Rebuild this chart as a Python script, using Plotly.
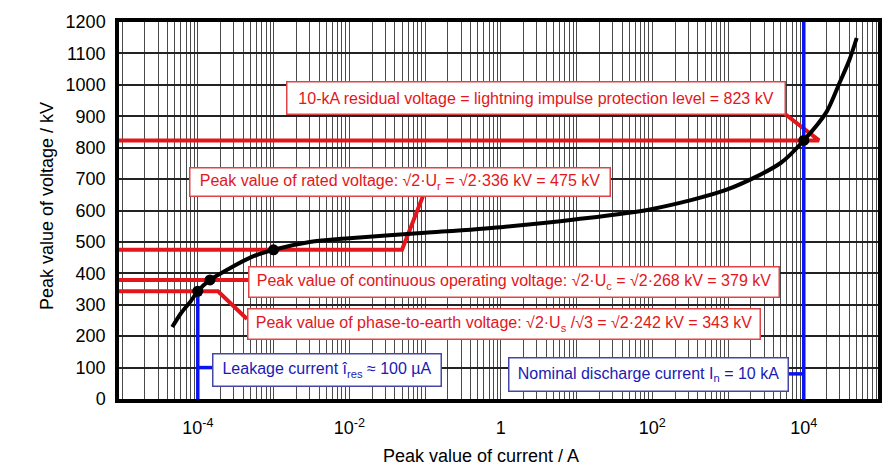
import plotly.graph_objects as go

# ---------------- data ----------------
current_A = [4.6e-5, 6e-5, 8e-5, 1e-4, 1.45e-4, 2.5e-4, 5e-4, 1e-3, 3e-3, 1e-2,
             0.1, 1, 10, 100, 1000, 5000, 1e4, 2e4, 3e4, 4e4, 5e4]
voltage_kV = [229, 273, 310, 343, 379, 413, 451, 475, 500, 512,
              529, 547, 572, 605, 668, 752, 823, 914, 1009, 1079, 1149]

marked_current_A = [1e-4, 1.45e-4, 1e-3, 1e4]
marked_voltage_kV = [343, 379, 475, 823]

protection_level_kV = 823
rated_peak_kV = 475
continuous_peak_kV = 379
phase_earth_peak_kV = 343
leakage_current_A = 1e-4
nominal_current_A = 1e4
leakage_label_kV = 100
nominal_label_kV = 80

x_label_vals = [1e-4, 1e-2, 1, 1e2, 1e4]
x_label_text = ["10<sup>-4</sup>", "10<sup>-2</sup>", "1", "10<sup>2</sup>", "10<sup>4</sup>"]
y_tick_vals = [0, 100, 200, 300, 400, 500, 600, 700, 800, 900, 1000, 1100, 1200]

label_protection = "10-kA residual voltage = lightning impulse protection level = 823 kV"
label_rated = "Peak value of rated voltage: √2·U<sub>r</sub> = √2·336 kV = 475 kV"
label_continuous = "Peak value of continuous operating voltage: √2·U<sub>c</sub> = √2·268 kV = 379 kV"
label_phase_earth = "Peak value of phase-to-earth voltage: √2·U<sub>s</sub> /√3 = √2·242 kV = 343 kV"
label_leakage = "Leakage current î<sub>res</sub> ≈ 100 µA"
label_nominal = "Nominal discharge current I<sub>n</sub> = 10 kA"

# ---------------- layout geometry ----------------
W, H = 896, 474
PL, PR, PT, PB = 119, 878, 22, 399
XR = [-5.04, 4.98]
YR = [0, 1200]

def px_x(px):
    return 10 ** (XR[0] + (px - PL) / (PR - PL) * (XR[1] - XR[0]))

def px_y(py):
    return YR[0] + (PB - py) / (PB - PT) * (YR[1] - YR[0])

def paper_x(px):
    return (px - PL) / (PR - PL)

def paper_y(py):
    return (PB - py) / (PB - PT)

x_left = 10 ** XR[0]

# gridlines at every 1..9 x 10^k
grid_vals = [m * 10 ** k for k in range(-5, 5) for m in range(1, 10)]
grid_text = []
for v in grid_vals:
    t = ""
    for lv, lt in zip(x_label_vals, x_label_text):
        if abs(v - lv) / lv < 1e-9:
            t = lt
    grid_text.append(t)

FONT = "Liberation Sans, Arial, sans-serif"
RED = "#e3161b"
BLUE = "#0a14f0"

fig = go.Figure()

def add_line(xs, ys, color, width):
    fig.add_trace(go.Scatter(x=xs, y=ys, mode="lines",
                             line=dict(color=color, width=width),
                             hoverinfo="skip", showlegend=False, cliponaxis=False))

# red leader lines
add_line([x_left, px_x(819), px_x(785)], [protection_level_kV, protection_level_kV, px_y(114)], RED, 4)
add_line([x_left, px_x(402), px_x(423)], [rated_peak_kV, rated_peak_kV, px_y(196)], RED, 4)
add_line([x_left, px_x(248)], [continuous_peak_kV, continuous_peak_kV], RED, 4)
add_line([x_left, px_x(218), px_x(247)], [phase_earth_peak_kV, phase_earth_peak_kV, px_y(319)], RED, 4)

# blue lines
add_line([leakage_current_A, leakage_current_A], [0, phase_earth_peak_kV], BLUE, 3.5)
add_line([leakage_current_A, px_x(212)], [leakage_label_kV, leakage_label_kV], BLUE, 3.5)
add_line([nominal_current_A, nominal_current_A], [YR[0], YR[1]], BLUE, 3.5)
add_line([px_x(788), nominal_current_A], [nominal_label_kV, nominal_label_kV], BLUE, 3.5)

# characteristic
fig.add_trace(go.Scatter(x=current_A, y=voltage_kV, mode="lines",
                         line=dict(color="black", width=4, shape="spline", smoothing=0.8),
                         hoverinfo="skip", showlegend=False))
fig.add_trace(go.Scatter(x=marked_current_A, y=marked_voltage_kV, mode="markers",
                         marker=dict(color="black", size=11),
                         hoverinfo="skip", showlegend=False))

annotations = []

def add_box(text, x0, y0, x1, y1, tcolor, bcolor):
    pad = 3
    annotations.append(dict(
        text=text, xref="paper", yref="paper",
        x=paper_x((x0 + x1) / 2), y=paper_y((y0 + y1) / 2),
        xanchor="center", yanchor="middle", showarrow=False,
        width=(x1 - x0) - 2 * pad - 2, height=(y1 - y0) - 2 * pad - 2,
        bgcolor="white", bordercolor=bcolor, borderwidth=1.5, borderpad=pad,
        font=dict(family=FONT, size=16, color=tcolor)))

add_box(label_protection, 286, 81, 785, 114, RED, "#e04545")
add_box(label_rated, 189, 167, 610, 196, RED, "#e04545")
add_box(label_continuous, 248, 266, 779, 297, RED, "#e04545")
add_box(label_phase_earth, 247, 308, 760, 339, RED, "#e04545")
add_box(label_leakage, 212, 353, 441, 386, "#1a1ab4", "#4646a8")
add_box(label_nominal, 508, 357, 788, 391, "#1a1ab4", "#4646a8")

# axis titles
annotations.append(dict(text="Peak value of current / A", xref="paper", yref="paper",
                        x=paper_x(481), y=paper_y(456), xanchor="center", yanchor="middle",
                        showarrow=False, font=dict(family=FONT, size=18, color="black")))
annotations.append(dict(text="Peak value of voltage / kV", xref="paper", yref="paper",
                        x=paper_x(47), y=paper_y(206), xanchor="center", yanchor="middle",
                        textangle=-90, showarrow=False,
                        font=dict(family=FONT, size=18, color="black")))

fig.update_layout(
    width=W, height=H,
    margin=dict(l=PL, r=W - PR, t=PT, b=H - PB, autoexpand=False),
    paper_bgcolor="white", plot_bgcolor="white",
    font=dict(family=FONT, size=18, color="black"),
    annotations=annotations,
    xaxis=dict(type="log", range=XR, tickmode="array", tickvals=grid_vals, ticktext=grid_text,
               showgrid=True, gridcolor="#4a4a4a", gridwidth=1.4, zeroline=False,
               showline=True, linecolor="black", linewidth=3.5, mirror=True,
               ticks="", ticklabelstandoff=10, tickfont=dict(family=FONT, size=18)),
    yaxis=dict(range=YR, tickmode="array", tickvals=y_tick_vals,
               showgrid=True, gridcolor="#222222", gridwidth=1.5, zeroline=False,
               showline=True, linecolor="black", linewidth=3.5, mirror=True,
               ticks="", ticklabelstandoff=6, tickfont=dict(family=FONT, size=18)),
)

fig.write_html("out.html", config={"displayModeBar": False},
               post_script="document.body.style.margin='0';")
